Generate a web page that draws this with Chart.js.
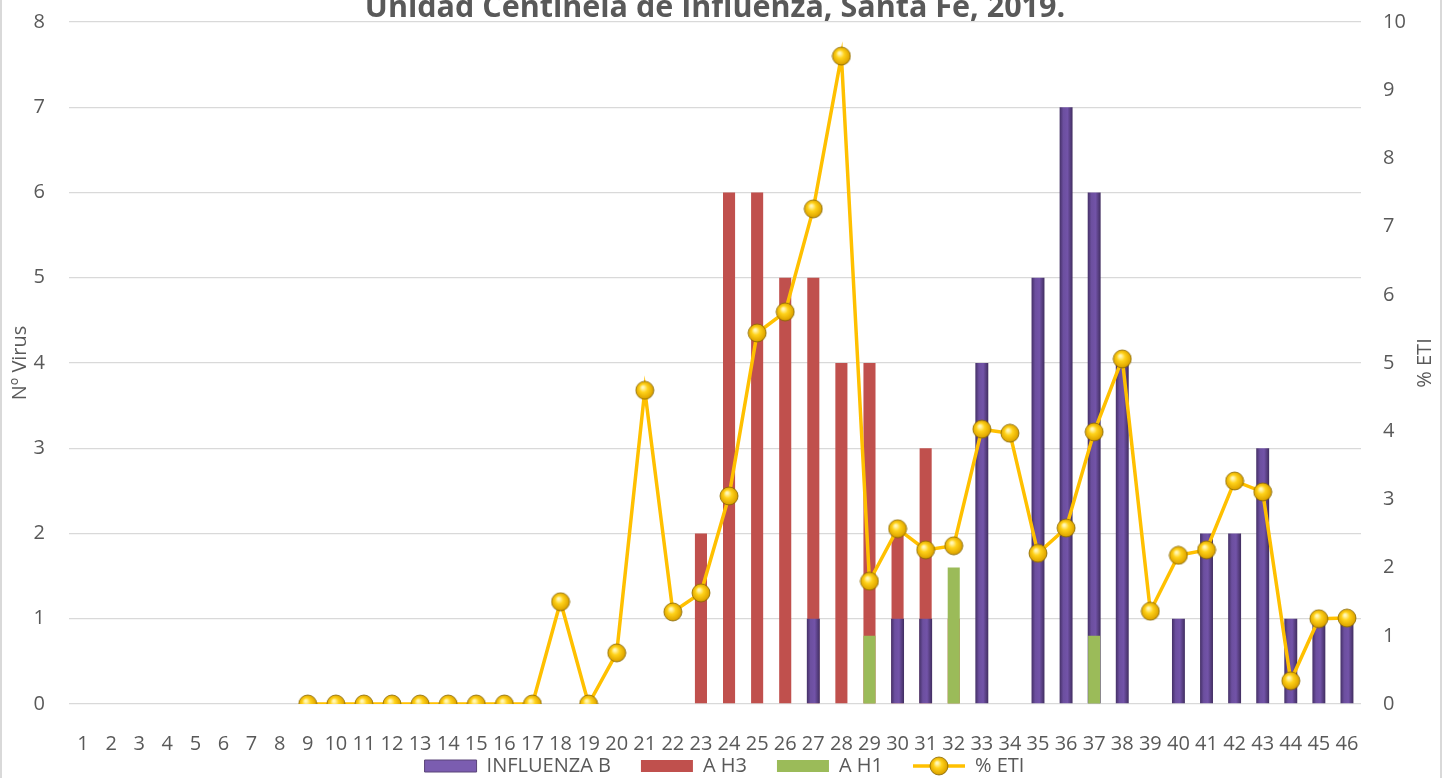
<!DOCTYPE html>
<html>
<head>
<meta charset="utf-8">
<script src="https://cdn.jsdelivr.net/npm/chart.js@4.4.1/dist/chart.umd.min.js"></script>
<style>
  html, body { margin: 0; padding: 0; background: #fff; }
  #wrap { width: 1449px; height: 778px; position: relative; }
</style>
</head>
<body>
<div id="wrap"><canvas id="chart" width="1449" height="778"></canvas></div>
<script>
const weeks = ['1','2','3','4','5','6','7','8','9','10','11','12','13','14','15','16','17','18','19','20','21','22','23','24','25','26','27','28','29','30','31','32','33','34','35','36','37','38','39','40','41','42','43','44','45','46'];

// Nº virus (eje izquierdo)
const influenzaB = [null,null,null,null,null,null,null,null,null,null,null,null,null,null,null,null,null,null,null,null,null,null,null,null,null,null,
  1,null,null,1,1,null,4,null,5,7,6,4,null,1,2,2,3,1,1,1];
const aH3 = [null,null,null,null,null,null,null,null,null,null,null,null,null,null,null,null,null,null,null,null,null,null,
  2,6,6,5,5,4,4,2,3,1,null,null,null,null,null,null,null,null,null,null,null,null,null,null];
// A H1 va en el eje secundario
const aH1 = [null,null,null,null,null,null,null,null,null,null,null,null,null,null,null,null,null,null,null,null,null,null,null,null,null,null,null,null,
  1,null,null,2,null,null,null,null,1,null,null,null,null,null,null,null,null,null];
// % ETI (eje derecho)
const eti = [null,null,null,null,null,null,null,null,
  0,0,0,0,0,0,0,0,0,1.5,0,0.75,4.6,1.35,1.63,3.05,5.44,5.75,7.26,9.5,1.8,2.57,2.26,2.32,4.03,3.97,2.21,2.58,3.99,5.06,1.36,2.18,2.26,3.27,3.11,0.34,1.25,1.26];

const leftTicks = [0,1,2,3,4,5,6,7,8];
const rightTicks = [0,1,2,3,4,5,6,7,8,9,10];
const seriesNames = ['INFLUENZA B', 'A H3', 'A H1', '% ETI'];

const txtColor = '#595959';
const fontFam = "'Open Sans', sans-serif";

// bolita amarilla del marcador
function makeSphere() {
  const c = document.createElement('canvas');
  c.width = 20; c.height = 20;
  const g = c.getContext('2d');
  const rg = g.createRadialGradient(8, 7, 1, 10, 10, 10);
  rg.addColorStop(0, '#fff7b8');
  rg.addColorStop(0.35, '#ffd21a');
  rg.addColorStop(0.8, '#e2a900');
  rg.addColorStop(1, '#9a7000');
  g.beginPath();
  g.arc(10, 10, 9, 0, Math.PI * 2);
  g.fillStyle = rg;
  g.fill();
  g.lineWidth = 0.8;
  g.strokeStyle = '#8a6a00';
  g.stroke();
  return c;
}
const sphere = makeSphere();

function makeLineLegend() {
  const c = document.createElement('canvas');
  c.width = 52; c.height = 20;
  const g = c.getContext('2d');
  g.strokeStyle = '#ffc000';
  g.lineWidth = 3.5;
  g.beginPath();
  g.moveTo(0, 10); g.lineTo(52, 10);
  g.stroke();
  g.drawImage(sphere, 16, 0);
  return c;
}
const lineLegend = makeLineLegend();

function purpleFill(c) {
  const sx = c.chart.scales.x;
  if (c.type !== 'data' || !sx) return '#6a4c9c';
  const cx = sx.getPixelForValue(c.dataIndex);
  const g = c.chart.ctx.createLinearGradient(cx - 7, 0, cx + 7, 0);
  g.addColorStop(0, '#3e2b5e');
  g.addColorStop(0.3, '#6c4f9f');
  g.addColorStop(0.6, '#7253a8');
  g.addColorStop(1, '#3b2958');
  return g;
}

const decor = {
  id: 'decor',
  afterLayout(chart) {
    // la leyenda queda pegada bajo las etiquetas del eje x
    chart.legend.top -= 24;
  },
  beforeDraw(chart) {
    const ctx = chart.ctx;
    ctx.save();
    ctx.fillStyle = '#d9d9d9';
    ctx.fillRect(0, 0, 2, chart.height);
    ctx.fillRect(1440, 0, 2, chart.height);
    ctx.restore();
  },
  afterDraw(chart) {
    const ctx = chart.ctx;
    const a = chart.chartArea;
    ctx.save();
    ctx.fillStyle = txtColor;
    ctx.font = 'bold 30.5px ' + fontFam;
    ctx.textAlign = 'center';
    ctx.textBaseline = 'alphabetic';
    ctx.fillText('Unidad Centinela de Influenza, Santa Fe, 2019.', (a.left + a.right) / 2, 17);
    // titulo eje derecho, se lee de abajo hacia arriba
    ctx.font = '20px ' + fontFam;
    ctx.translate(1425, (a.top + a.bottom) / 2);
    ctx.rotate(-Math.PI / 2);
    ctx.textBaseline = 'middle';
    ctx.fillText('% ETI', 0, 0);
    ctx.restore();
  }
};

const ctx = document.getElementById('chart').getContext('2d');
new Chart(ctx, {
  type: 'bar',
  data: {
    labels: weeks,
    datasets: [
      {
        label: seriesNames[0],
        data: influenzaB,
        yAxisID: 'y',
        backgroundColor: purpleFill,
        grouped: false,
        barPercentage: 0.46,
        categoryPercentage: 1,
        order: 2
      },
      {
        label: seriesNames[1],
        data: aH3,
        yAxisID: 'y',
        backgroundColor: '#c0504d',
        grouped: false,
        barPercentage: 0.43,
        categoryPercentage: 1,
        order: 3
      },
      {
        label: seriesNames[2],
        data: aH1,
        yAxisID: 'y1',
        backgroundColor: '#9bbb59',
        grouped: false,
        barPercentage: 0.43,
        categoryPercentage: 1,
        order: 1
      },
      {
        type: 'line',
        label: seriesNames[3],
        data: eti,
        yAxisID: 'y1',
        borderColor: '#ffc000',
        borderWidth: 3.5,
        pointStyle: sphere,
        pointRadius: 9,
        pointHoverRadius: 9,
        tension: 0,
        order: 0
      }
    ]
  },
  options: {
    responsive: false,
    animation: false,
    layout: { padding: { top: 0, left: 0, right: 0, bottom: 0 } },
    plugins: {
      tooltip: { enabled: false },
      title: { display: false },
      legend: {
        position: 'bottom',
        maxHeight: 28,
        labels: {
          usePointStyle: true,
          pointStyleWidth: 52,
          boxHeight: 12,
          padding: 30,
          color: txtColor,
          font: { family: fontFam, size: 20 },
          generateLabels: () => [
            { text: seriesNames[0], fillStyle: '#7b5db0', strokeStyle: '#5a4478', lineWidth: 1, pointStyle: 'rect', datasetIndex: 0, hidden: false, fontColor: txtColor },
            { text: seriesNames[1], fillStyle: '#c0504d', strokeStyle: '#c0504d', lineWidth: 0, pointStyle: 'rect', datasetIndex: 1, hidden: false, fontColor: txtColor },
            { text: seriesNames[2], fillStyle: '#9bbb59', strokeStyle: '#9bbb59', lineWidth: 0, pointStyle: 'rect', datasetIndex: 2, hidden: false, fontColor: txtColor },
            { text: seriesNames[3], fillStyle: '#ffc000', strokeStyle: '#ffc000', lineWidth: 0, pointStyle: lineLegend, datasetIndex: 3, hidden: false, fontColor: txtColor }
          ]
        }
      }
    },
    scales: {
      x: {
        grid: { display: false },
        border: { display: false },
        ticks: {
          color: txtColor,
          font: { family: fontFam, size: 20 },
          padding: 20,
          maxRotation: 0,
          minRotation: 0,
          autoSkip: false
        },
        afterFit: (s) => { s.height = 46; }
      },
      y: {
        position: 'left',
        min: 0,
        max: 8,
        afterBuildTicks: (s) => { s.ticks = leftTicks.map(v => ({ value: v })); },
        // marcas invisibles: separan las etiquetas sin sumar margen arriba
        grid: { color: '#d9d9d9', lineWidth: 1.3, drawTicks: true, tickLength: 14, tickColor: 'rgba(0,0,0,0)' },
        border: { display: false },
        ticks: { color: txtColor, font: { family: fontFam, size: 20 }, padding: 10 },
        title: { display: true, text: 'Nº Virus', color: txtColor, font: { family: fontFam, size: 20 }, padding: { top: 8, bottom: 0 } },
        afterFit: (s) => { s.width = 69; }
      },
      y1: {
        position: 'right',
        min: 0,
        max: 10,
        afterBuildTicks: (s) => { s.ticks = rightTicks.map(v => ({ value: v })); },
        grid: { display: true, drawOnChartArea: false, drawTicks: true, tickLength: 12, tickColor: 'rgba(0,0,0,0)', color: 'rgba(0,0,0,0)' },
        border: { display: false },
        ticks: { color: txtColor, font: { family: fontFam, size: 20 }, padding: 10 },
        afterFit: (s) => { s.width = 88; }
      }
    }
  },
  plugins: [decor]
});
</script>
</body>
</html>
